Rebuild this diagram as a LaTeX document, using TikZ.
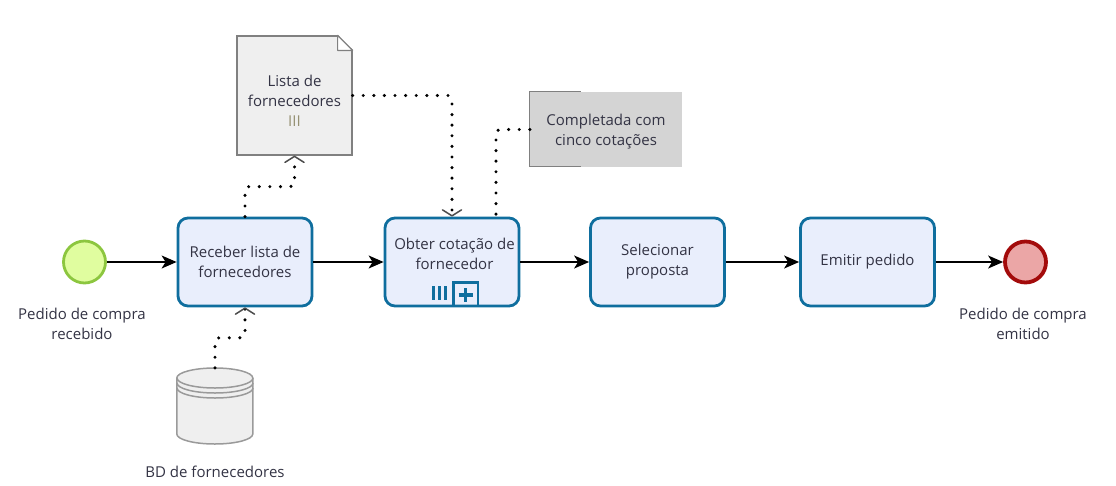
\documentclass[tikz,border=0pt]{standalone}
\usepackage{fontspec}
\setmainfont{Open Sans}
\usetikzlibrary{arrows.meta}
\definecolor{taskfill}{HTML}{E9EEFC}
\definecolor{taskline}{HTML}{0F6E9E}
\definecolor{startfill}{HTML}{E0FD9F}
\definecolor{startline}{HTML}{8CC63F}
\definecolor{endfill}{HTML}{EBA6A6}
\definecolor{endline}{HTML}{A30B0B}
\definecolor{artfill}{HTML}{EFEFEF}
\definecolor{artline}{HTML}{808080}
\definecolor{annofill}{HTML}{D4D4D4}
\definecolor{inktext}{HTML}{333344}
\tikzset{
  flow/.style={line width=1.3pt,-{Stealth[length=15pt,width=13pt,inset=4pt]}},
  assoc/.style={line width=3.4pt,line cap=round,dash pattern=on 0pt off 10.6pt,rounded corners=4pt},
  assocend/.style={assoc,-{Straight Barb[length=6pt,width=19pt,line width=1.5pt,color=black!70,round]}},
  task/.style={draw=taskline,fill=taskfill,line width=2.8pt,rounded corners=10pt,
    minimum width=134pt,minimum height=88pt,align=center,inner sep=0pt,text=inktext},
  evstart/.style={circle,draw=startline,fill=startfill,line width=2.8pt,minimum size=42pt,inner sep=0pt},
  evend/.style={circle,draw=endline,fill=endfill,line width=3.8pt,minimum size=41pt,inner sep=0pt},
  caption/.style={align=center,text=inktext},
  marker/.style={taskline,line width=3pt}
}
\begin{document}
\begin{tikzpicture}[x=1pt,y=-1pt,every node/.style={font=\fontsize{15}{20}\selectfont}]
  \useasboundingbox (0,0) rectangle (1116,485);
  % events and tasks
  \node [evstart] (start) at (84.5,262) {};
  \node [task] (recv) at (245,262) {Receber lista de\\fornecedores};
  \node [task] (quote) at (452,262) {\hspace*{5pt}Obter cotação de\\\hspace*{5pt}fornecedor\\[-4pt]~};
  \node [task] (pick) at (657.5,262) {Selecionar\\proposta};
  \node [task] (issue) at (867.5,262) {Emitir pedido};
  \node [evend] (stop) at (1025.5,262) {};
  \node [caption] (startcap) at (82,324) {Pedido de compra\\recebido};
  \node [caption] (stopcap) at (1023,324) {Pedido de compra\\emitido};
  % list document
  \node [draw=artline,fill=artfill,line width=1.2pt,minimum width=115pt,minimum height=119pt,
    align=center,inner sep=0pt,text=inktext] (doc) at (294.5,95.5)
    {\rule{0pt}{21pt}Lista de\\fornecedores\\{\color{black!45!yellow!40!gray}III}};
  \fill [white] (doc.north east) ++(-15,-1) -- ++(16,0) -- ++(0,16) -- cycle;
  \draw [artline,line width=1.2pt,fill=white,line join=round] (doc.north east) ++(-15,0) -- ++(15,15) -- ++(-15,0) -- cycle;
  % annotation
  \node [fill=annofill,minimum width=152pt,minimum height=75pt,align=center,inner sep=0pt,text=inktext] (anno) at (606,129.5)
    {\rule{0pt}{15pt}Completada com\\cinco cotações};
  \draw [artline,line width=1.2pt] (anno.north west) ++(51,0) -- ++(-51,0) -- ++(0,75) -- ++(51,0);
  % data store
  \node [minimum width=76pt,minimum height=76pt,inner sep=0pt] (db) at (215,406) {};
  \draw [artline!80,line width=1.5pt,fill=artfill] (db.west) ++(0,-28) -- ++(0,56)
    arc [start angle=180,end angle=360,x radius=38,y radius=-10] -- ++(0,-56)
    arc [start angle=0,end angle=180,x radius=38,y radius=-10] -- cycle;
  \foreach \dy in {-28,-23,-18}
    \draw [artline!80,line width=1.5pt] (db.center) ++(-38,\dy)
      arc [start angle=180,end angle=360,x radius=38,y radius=-10];
  \node [caption] (dbcap) at (215,472) {BD de fornecedores};
  % markers of the subprocess
  \foreach \mx in {433.5,439.5,445.5}
    \draw [marker] (\mx,286) -- (\mx,300);
  \draw [marker,line width=2.6pt] (453.5,282.5) rectangle (478,306);
  \draw [marker,line width=3.6pt] (458.5,295) -- (472.5,295);
  \draw [marker,line width=3.6pt] (465.5,288) -- (465.5,302);
  % sequence flows
  \draw [flow] (start) -- (recv);
  \draw [flow] (recv) -- (quote);
  \draw [flow] (quote) -- (pick);
  \draw [flow] (pick) -- (issue);
  \draw [flow] (issue) -- (stop);
  % associations
  \coordinate (annoend) at (496,216);
  \draw [assocend] (recv.north) -- ++(0,-30) -| (doc.south);
  \draw [assocend] (doc.east) -| (quote.north);
  \draw [assoc] (anno.west) -| (annoend);
  \draw [assocend] (db.north) -- ++(0,-30) -| (recv.south);
\end{tikzpicture}
\end{document}
